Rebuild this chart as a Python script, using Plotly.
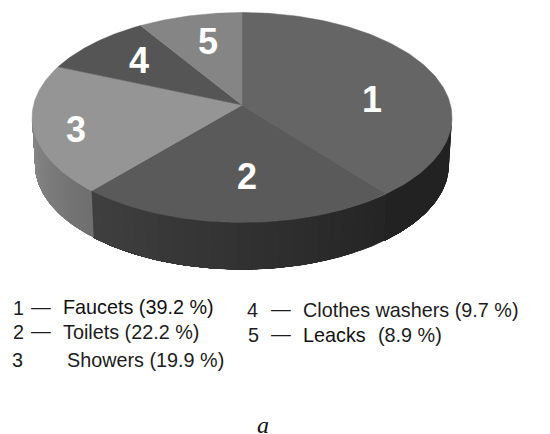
import numpy as np
import plotly.graph_objects as go

# Data
numbers = ["1", "2", "3", "4", "5"]
categories = ["Faucets", "Toilets", "Showers", "Clothes washers", "Leacks"]
shares = [39.2, 22.2, 19.9, 9.7, 8.9]

# Styles
top_colors = ["#656565", "#5a5a5a", "#959595", "#555555", "#858585"]
side_start = [0x22, 0x24, 0x6e, 0x55, 0x85]   # grey at the clockwise start of each slice's wall
side_end = [0x22, 0x40, 0x8a, 0x55, 0x85]     # grey at the clockwise end

CX, CY, RX, RY, TILT = 242.0, 117.5, 210.0, 105.0, 0.119
BCX, BCY, BRX, BRY = 242.0, 164.5, 207.0, 105.0

def project(theta):
    """Clockwise angle from 12 o'clock on the disc -> unit ellipse coords with perspective."""
    s, c = np.sin(theta), np.cos(theta)
    k = 1 + TILT * c
    return s * np.sqrt(1 - TILT ** 2) / k, (c + TILT) / k

fig = go.Figure()

edges = np.radians(np.cumsum([0] + shares) * 3.6)
edges[-1] = 2 * np.pi
vis0 = np.arccos(-TILT)
vis1 = 2 * np.pi - vis0

# Walls: later strips are painted over earlier ones so no seams appear
for i in range(len(shares)):
    a0, a1 = max(edges[i], vis0), min(edges[i + 1], vis1)
    if a1 <= a0:
        continue
    n = 24
    for j in range(n):
        seg = np.linspace(a0 + (a1 - a0) * j / n, a1, 60)
        ux, uy = project(seg)
        g = int(round(side_start[i] + (side_end[i] - side_start[i]) * (j + 0.5) / n))
        col = f"rgb({g},{g},{g})"
        xs = np.concatenate([CX + RX * ux, (BCX + BRX * ux)[::-1]])
        ys = np.concatenate([CY - RY * uy, (BCY - BRY * uy)[::-1]])
        fig.add_trace(go.Scatter(x=xs, y=ys, mode="lines", fill="toself", fillcolor=col,
                                 line=dict(color=col, width=0), hoverinfo="skip", showlegend=False))

# Top face
for i in range(len(shares)):
    th = np.linspace(edges[i], edges[i + 1], 120)
    ux, uy = project(th)
    xs = np.concatenate([[CX], CX + RX * ux, [CX]])
    ys = np.concatenate([[CY - RY * TILT], CY - RY * uy, [CY - RY * TILT]])
    fig.add_trace(go.Scatter(x=xs, y=ys, mode="lines", fill="toself", fillcolor=top_colors[i],
                             line=dict(color=top_colors[i], width=0.5),
                             hoverinfo="text", text=f"{categories[i]} ({shares[i]} %)", showlegend=False))

SANS = "Liberation Sans, Arial, sans-serif"

def note(x, y, text, size=19.8, color="#1c1c1c", family=SANS, anchor="left"):
    fig.add_annotation(x=x, y=y, text=text, showarrow=False, xref="x", yref="y",
                       xanchor=anchor, yanchor="middle", align="left", borderpad=0, borderwidth=0,
                       font=dict(family=family, size=size, color=color))

# Labels on the slices
for num, (lx, ly) in zip(numbers, [(372, 99), (247, 176), (76, 129), (139, 60), (208, 41)]):
    note(lx, ly, f"<b>{num}</b>", size=36, color="#ffffff", anchor="center")

# Key below the pie
dash = "\u2014"
note(13, 308, f"{numbers[0]}")
note(31, 307, dash)
note(63, 307, f"{categories[0]} ({shares[0]} %)", color="#111111")
note(13, 332, f"{numbers[1]}")
note(31, 331, dash)
note(63, 332, f"{categories[1]} ({shares[1]} %)")
note(12, 360, f"{numbers[2]}")
note(67, 360, f"{categories[2]} ({shares[2]} %)")
note(247, 310, f"{numbers[3]}")
note(271, 309, dash)
note(303, 310, f"{categories[3]} ({shares[3]} %)")
note(248, 335, f"{numbers[4]}")
note(271, 334, dash)
note(303, 335, f"{categories[4]}", color="#111111")
note(378, 335, f"({shares[4]} %)")
note(263, 425, "<i>a</i>", size=24, color="#111111", family="Liberation Serif, Times New Roman, serif", anchor="center")

fig.update_layout(
    width=550, height=434, autosize=False,
    margin=dict(l=0, r=0, t=0, b=0),
    paper_bgcolor="white", plot_bgcolor="white",
    xaxis=dict(range=[0, 550], visible=False, fixedrange=True),
    yaxis=dict(range=[434, 0], visible=False, fixedrange=True),
)
fig.write_html("out.html", config={"displayModeBar": False},
               post_script="document.body.style.margin='0';document.documentElement.style.overflow='hidden';window.dispatchEvent(new Event('resize'));")
